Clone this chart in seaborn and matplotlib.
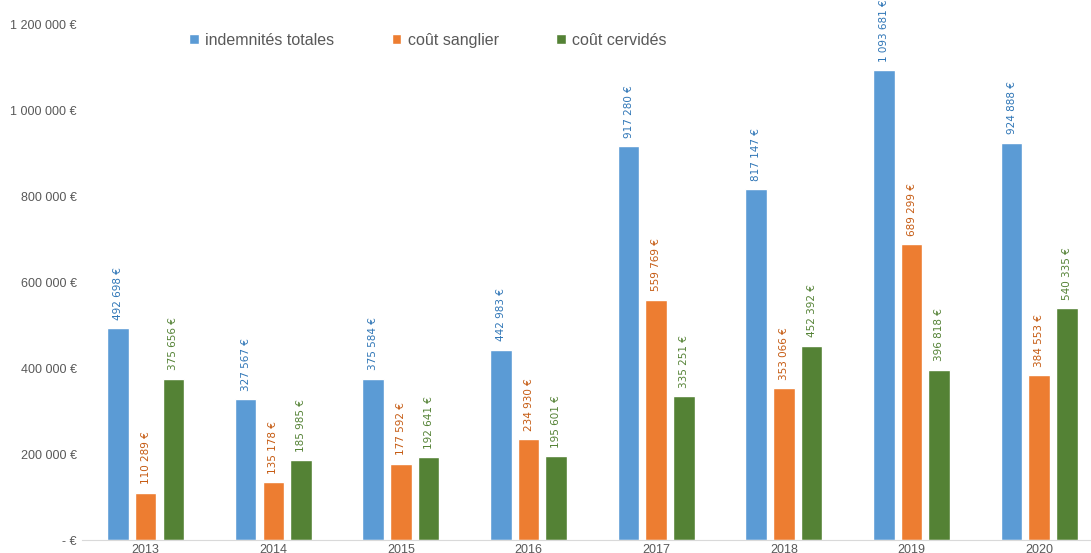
import pandas as pd
import matplotlib
matplotlib.use("Agg")
import matplotlib.pyplot as plt
from matplotlib.ticker import FuncFormatter
import seaborn as sns

years = ["2013", "2014", "2015", "2016", "2017", "2018", "2019", "2020"]
indemnites = [492698, 327567, 375584, 442983, 917280, 817147, 1093681, 924888]
sanglier = [110289, 135178, 177592, 234930, 559769, 353066, 689299, 384553]
cervides = [375656, 185985, 192641, 195601, 335251, 452392, 396818, 540335]
series_names = ["indemnités totales", "coût sanglier", "coût cervidés"]

bar_colors = ["#5B9BD5", "#ED7D31", "#548235"]
label_colors = ["#2E75B6", "#C55A11", "#548235"]
grey = "#595959"

df = pd.DataFrame({
    "annee": years * 3,
    "valeur": indemnites + sanglier + cervides,
    "serie": [series_names[0]] * 8 + [series_names[1]] * 8 + [series_names[2]] * 8,
})


def euro(v):
    if v == 0:
        return "- €"
    return f"{int(round(v)):,}".replace(",", " ") + " €"


sns.set_style("white")
plt.rcParams["font.family"] = ["Liberation Sans", "DejaVu Sans"]

fig = plt.figure(figsize=(10.91, 5.53), dpi=100)
ax = fig.add_axes([0.075, 0.0235, 0.936, 0.932])

sns.barplot(data=df, x="annee", y="valeur", hue="serie", palette=bar_colors,
            width=0.65, gap=0.22, ax=ax, saturation=1, errorbar=None)

for cont, col in zip(ax.containers, label_colors):
    ax.bar_label(cont, labels=[euro(b.get_height()) for b in cont], rotation=90,
                 padding=6, color=col, fontsize=7.5, family="DejaVu Sans", clip_on=False)

ax.set_ylim(0, 1200000)
ax.set_xlim(-0.5, 7.5)
ax.set_yticks(range(0, 1200001, 200000))
ax.yaxis.set_major_formatter(FuncFormatter(lambda v, p: euro(v)))
ax.tick_params(axis="both", length=0, colors=grey, labelsize=9)
ax.tick_params(axis="x", pad=3)
ax.set_xlabel("")
ax.set_ylabel("")
for s in ["top", "right", "left"]:
    ax.spines[s].set_visible(False)
ax.spines["bottom"].set_color("#D9D9D9")

handles, labels = ax.get_legend_handles_labels()
ax.legend(handles, labels, loc="upper left", bbox_to_anchor=(0.16, 0.967),
          bbox_transform=fig.transFigure, ncol=3, frameon=False, fontsize=11.5,
          handlelength=0.6, handleheight=0.6, handletextpad=0.4, columnspacing=3.6,
          labelcolor=grey)

fig.savefig("out.png", dpi=100)
